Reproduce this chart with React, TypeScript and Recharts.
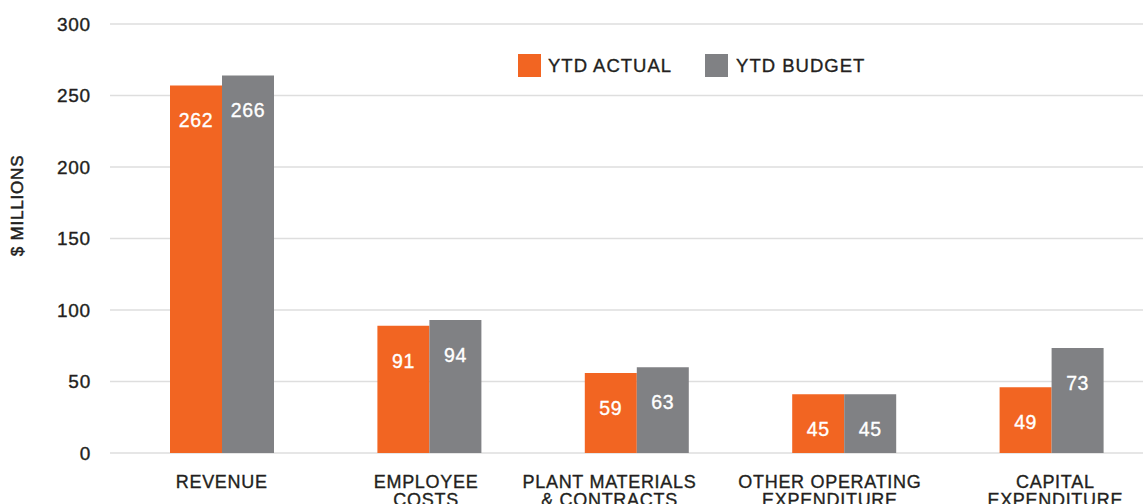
import React from 'react';
import { BarChart, Bar, XAxis, YAxis, CartesianGrid, LabelList, Legend } from 'recharts';

const categories = ['REVENUE', 'EMPLOYEE\nCOSTS', 'PLANT MATERIALS\n& CONTRACTS', 'OTHER OPERATING\nEXPENDITURE', 'CAPITAL\nEXPENDITURE'];
// bar heights as drawn in the picture
const actualValues = [257, 89, 56, 41, 46];
const budgetValues = [264, 93, 60, 41, 73.5];
// value labels printed on the bars
const actualLabels = ['262', '91', '59', '45', '49'];
const budgetLabels = ['266', '94', '63', '45', '73'];
const yTicks = [0, 50, 100, 150, 200, 250, 300];
// small horizontal nudges of the category labels, as in the original
const labelNudge = [0, -3, -27, -14, 4];

const ORANGE = '#f26522';
const GREY = '#808184';
const TEXT = '#231f20';
const FONT = '"Liberation Sans", Arial, sans-serif';

const data = categories.map((c, i) => ({
  name: c,
  actual: actualValues[i],
  budget: budgetValues[i],
  actualLabel: actualLabels[i],
  budgetLabel: budgetLabels[i],
}));

const XTick = (props: any) => {
  const { x, y, payload, index } = props;
  const lines = String(payload.value).split('\n');
  const nx = x + (labelNudge[index] || 0);
  return (
    <text x={nx} y={y + 35} textAnchor="middle" fill={TEXT} stroke={TEXT} strokeWidth={0.35} fontSize={18} fontFamily={FONT} letterSpacing={0.7}>
      {lines.map((l, i) => (
        <tspan key={i} x={nx} dy={i === 0 ? 0 : 18.3}>{l}</tspan>
      ))}
    </text>
  );
};

const LegendContent = () => (
  <div style={{ display: 'flex', alignItems: 'center', fontFamily: FONT, fontSize: 18.5, color: TEXT, letterSpacing: 1, WebkitTextStroke: '0.35px ' + TEXT }}>
    <span style={{ width: 23, height: 23, background: ORANGE, display: 'inline-block', marginRight: 7 }} />
    <span style={{ marginRight: 33 }}>YTD ACTUAL</span>
    <span style={{ width: 23, height: 23, background: GREY, display: 'inline-block', marginRight: 8 }} />
    <span>YTD BUDGET</span>
  </div>
);

const YLabel = (props: any) => {
  const vb = props.viewBox || {};
  const cx = vb.x + 17;
  const cy = vb.y + vb.height / 2 - 33;
  return (
    <text x={cx} y={cy} transform={`rotate(-90 ${cx} ${cy})`} textAnchor="middle" dominantBaseline="central" fill={TEXT} stroke={TEXT} strokeWidth={0.5} fontSize={17} fontFamily={FONT} letterSpacing={0.8}>
      $ MILLIONS
    </text>
  );
};

export default function App() {
  return (
    <div style={{ position: 'absolute', left: 0, top: 0, width: 1143, height: 504, overflow: 'hidden', background: '#fff' }}>
      <BarChart
        width={1160}
        height={504}
        data={data}
        margin={{ top: 24, right: 5, bottom: 0, left: 0 }}
        barGap={0}
      >
        <CartesianGrid horizontal vertical={false} stroke="#dedede" strokeWidth={1.5} />
        <XAxis
          dataKey="name"
          height={51}
          padding={{ left: 8, right: 0 }}
          axisLine={false}
          tickLine={false}
          tickSize={0}
          tickMargin={0}
          interval={0}
          tick={<XTick />}
        />
        <YAxis
          width={110}
          domain={[0, 300]}
          ticks={yTicks}
          axisLine={false}
          tickLine={false}
          tickSize={6}
          tickMargin={13}
          tick={{ fill: TEXT, stroke: TEXT, strokeWidth: 0.35, fontSize: 19, fontFamily: FONT, letterSpacing: 0.8 }}
          label={<YLabel />}
        />
        <Legend
          verticalAlign="middle"
          align="center"
          content={<LegendContent />}
          wrapperStyle={{ top: 54, left: 518, width: 420 }}
        />
        <Bar dataKey="actual" fill={ORANGE} barSize={52} isAnimationActive={false}>
          <LabelList dataKey="actualLabel" position="insideTop" offset={28} fill="#ffffff" stroke="#ffffff" strokeWidth={0.35} fontSize={19.5} fontFamily={FONT} letterSpacing={0.6} />
        </Bar>
        <Bar dataKey="budget" fill={GREY} barSize={52} isAnimationActive={false}>
          <LabelList dataKey="budgetLabel" position="insideTop" offset={28} fill="#ffffff" stroke="#ffffff" strokeWidth={0.35} fontSize={19.5} fontFamily={FONT} letterSpacing={0.6} />
        </Bar>
      </BarChart>
    </div>
  );
}
